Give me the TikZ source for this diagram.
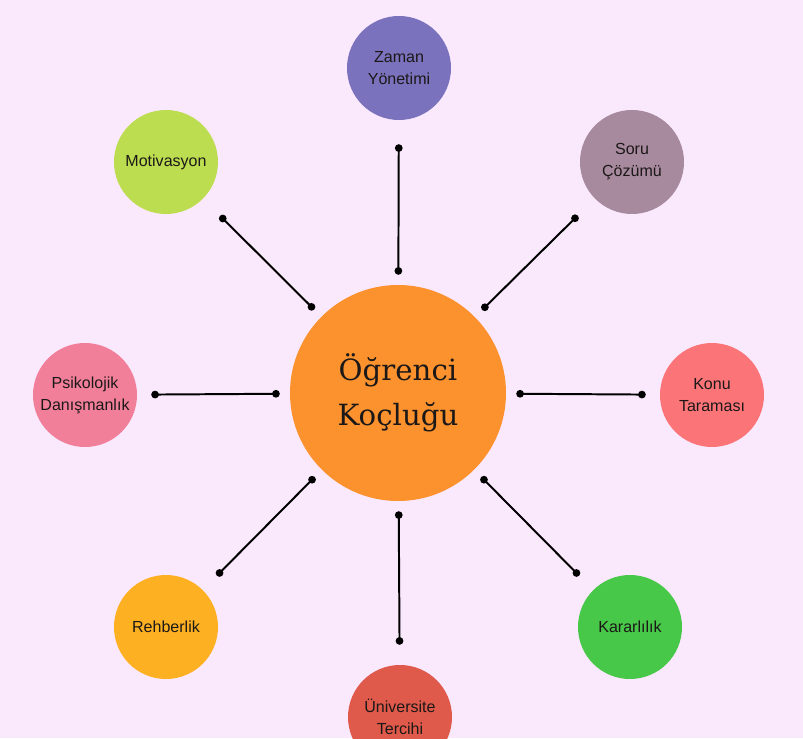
\documentclass[tikz,border=0pt]{standalone}
\usepackage{fontspec}
\setmainfont{Liberation Sans}
\newfontfamily\hubfont{DejaVu Serif}
\usepackage{xcolor}
\usetikzlibrary{shapes,arrows.meta,positioning,calc}

\definecolor{bgpink}{HTML}{FAE8FC}
\definecolor{huborange}{HTML}{FB922E}
\definecolor{czaman}{HTML}{7A72BD}
\definecolor{csoru}{HTML}{A88A9E}
\definecolor{ckonu}{HTML}{FB7478}
\definecolor{ckarar}{HTML}{47C848}
\definecolor{cuniv}{HTML}{DF5A4A}
\definecolor{crehber}{HTML}{FDB122}
\definecolor{cpsik}{HTML}{F27F9A}
\definecolor{cmotiv}{HTML}{BCDD4F}
\definecolor{inktext}{HTML}{1C1818}

\begin{document}
\begin{tikzpicture}[
  hubnode/.style={circle, fill=huborange, minimum size=5.4cm, inner sep=0pt,
    align=center, text=inktext, font=\hubfont\fontsize{20.8}{32}\selectfont},
  topic/.style={circle, minimum size=2.6cm, inner sep=0pt, align=center,
    text=inktext, font=\fontsize{11.4}{15.6}\selectfont},
  spoke/.style={line width=1.4pt, draw=black, {Circle[length=0.19cm]}-{Circle[length=0.19cm]},
    shorten <=0.25cm, shorten >=0.6cm}
]
\fill[bgpink] (-9.95,-8.575) rectangle (10.125,9.875);
\useasboundingbox (-9.95,-8.575) rectangle (10.125,9.875);

\node[hubnode] (hub) at (0,0.05) {Öğrenci\\Koçluğu};

\node[topic, fill=czaman] (zaman) at (0.025,8.175) {Zaman\\Yönetimi};
\node[topic, fill=csoru] (soru) at (5.85,5.825) {Soru\\Çözümü};
\node[topic, fill=ckonu] (konu) at (7.85,0) {Konu\\Taraması};
\node[topic, fill=ckarar] (karar) at (5.8,-5.8) {Kararlılık};
\node[topic, fill=cuniv] (univ) at (0.05,-8.05) {Üniversite\\Tercihi};
\node[topic, fill=crehber] (rehber) at (-5.8,-5.8) {Rehberlik};
\node[topic, fill=cpsik] (psik) at (-7.825,0) {Psikolojik\\Danışmanlık};
\node[topic, fill=cmotiv] (motiv) at (-5.8,5.825) {Motivasyon};

\draw[spoke] (hub) -- (zaman);
\draw[spoke] (hub) -- (soru);
\draw[spoke, shorten >=0.35cm] (hub) -- (konu);
\draw[spoke, shorten >=0.5cm] (hub) -- (karar);
\draw[spoke, shorten >=0.5cm] (hub) -- (univ);
\draw[spoke, shorten >=0.5cm] (hub) -- (rehber);
\draw[spoke, shorten >=0.35cm] (hub) -- (psik);
\draw[spoke] (hub) -- (motiv);
\end{tikzpicture}
\end{document}
